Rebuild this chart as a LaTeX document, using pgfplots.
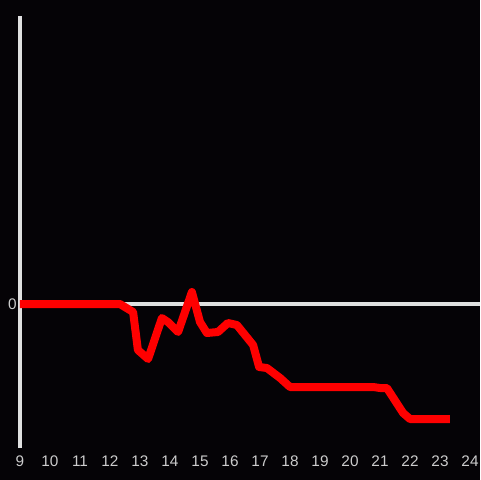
\documentclass[border=0pt]{standalone}
\usepackage{pgfplots}
\pgfplotsset{compat=1.18}
\usepackage{fontspec}
\setmainfont{Liberation Sans}
\definecolor{bg}{RGB}{5,3,6}
\definecolor{axisgray}{RGB}{224,224,224}
\definecolor{ticktext}{RGB}{204,204,204}
\definecolor{linered}{RGB}{255,0,0}
\begin{document}
\begin{tikzpicture}[x=1pt,y=1pt]
% background, 480x480 px at 0.75pt per px
\fill[bg] (-15,-24) rectangle (345,336);
\begin{axis}[
    at={(0,0)}, anchor=south west,
    scale only axis,
    width=345pt, height=324pt,
    xmin=9, xmax=24.333, ymin=-144, ymax=288,
    axis x line=bottom, axis y line=left,
    x axis line style={draw=none},
    y axis line style={axisgray, line width=2.4pt, -},
    xtick={9,10,...,24}, ytick={0},
    major tick length=0pt,
    tick label style={font=\fontsize{11.5}{13}\selectfont, text=ticktext},
    xticklabel style={yshift=-2.5pt},
    yticklabel style={xshift=1pt},
    /pgf/number format/assume math mode=true,
    clip=false,
]
    % zero line
    \addplot[axisgray, line width=2.4pt] coordinates {(9,0) (24.333,0)};
    % series
    \addplot[linered, line width=6pt, line join=round] coordinates {
        (9,0) (12.33,0) (12.77,-8) (12.93,-46) (13.27,-55) (13.73,-14)
        (13.93,-18) (14.27,-28) (14.73,12) (15.0,-18) (15.23,-29)
        (15.6,-28) (15.93,-19) (16.23,-21) (16.77,-41) (16.97,-63)
        (17.23,-64) (17.67,-74) (18.0,-83) (20.77,-83) (21.0,-84)
        (21.23,-84) (21.77,-109) (22.0,-115) (23.33,-115)
    };
\end{axis}
\pgfresetboundingbox
\path (-15,-24) rectangle (345,336);
\end{tikzpicture}
\end{document}
